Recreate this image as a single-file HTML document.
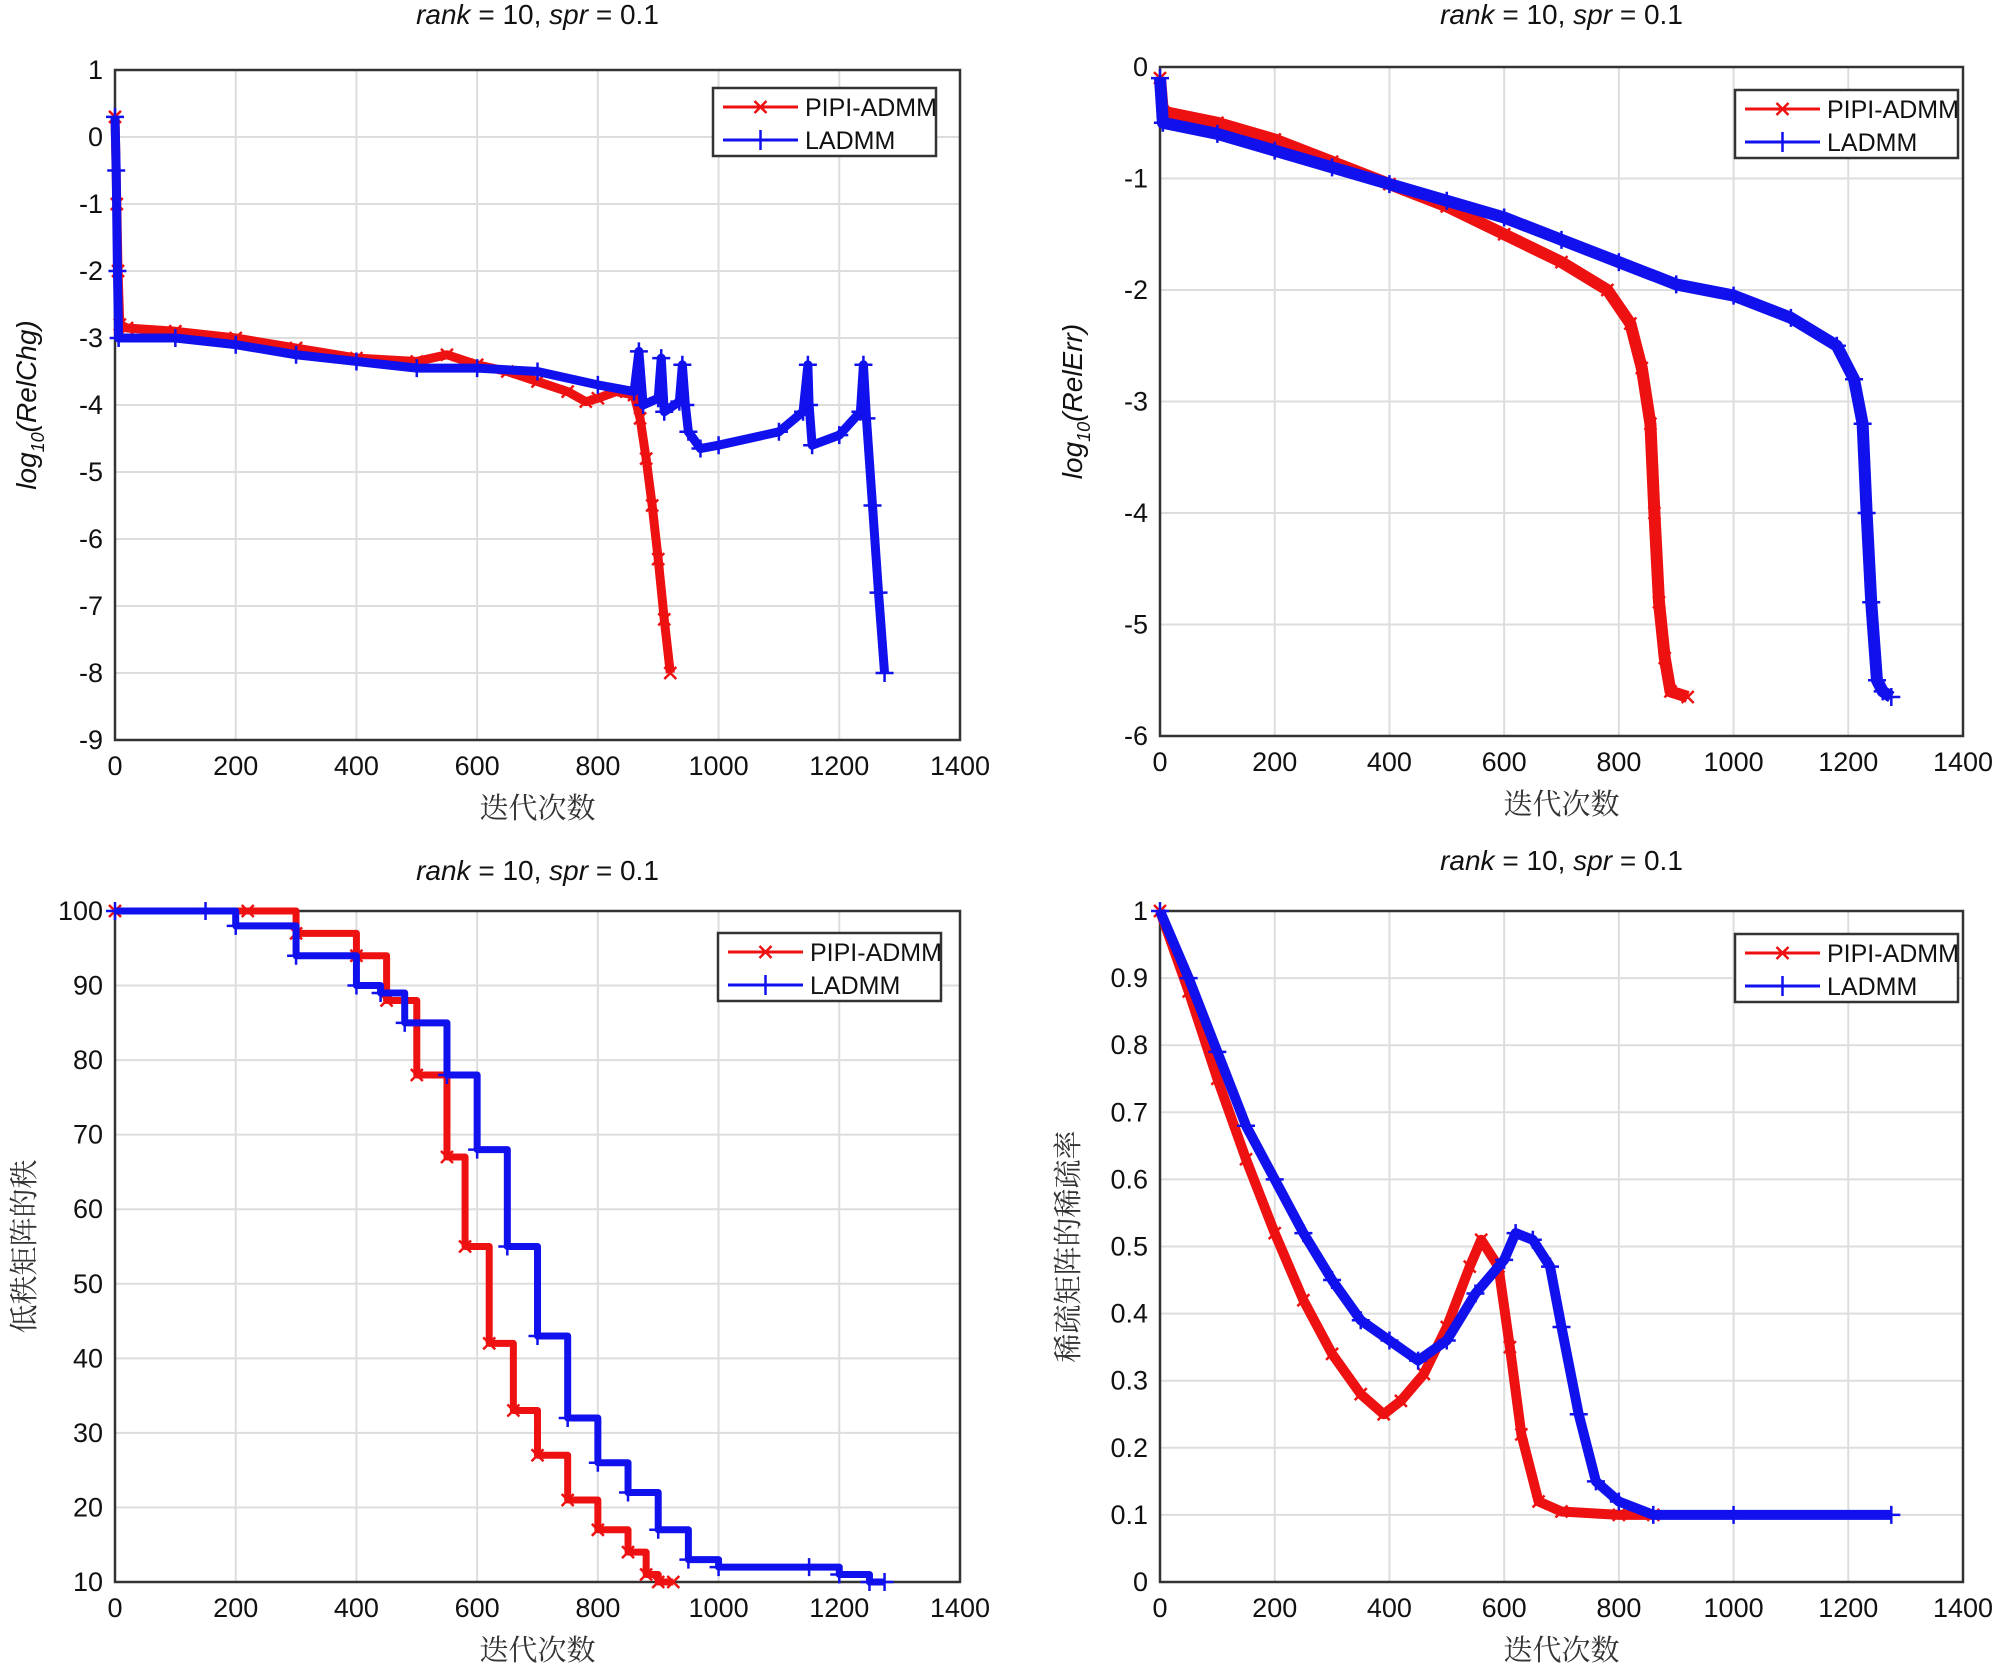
<!DOCTYPE html>
<html><head><meta charset="utf-8"><style>
body{margin:0;background:#fff;}
svg{display:block;font-family:"Liberation Sans","Noto Sans CJK SC",sans-serif;}
.tk{font-size:27px;fill:#111;}
.ttl{font-size:28px;fill:#111;}
.cn{font-family:"Noto Serif CJK SC","Noto Sans CJK SC",serif;font-size:29px;fill:#333;}
</style></head><body>
<svg id="fig" width="2000" height="1669" viewBox="0 0 2000 1669"></svg>
<script>
const xTicks=[0,200,400,600,800,1000,1200,1400];
const y1Ticks=[1,0,-1,-2,-3,-4,-5,-6,-7,-8,-9];
const y2Ticks=[0,-1,-2,-3,-4,-5,-6];
const y3Ticks=[100,90,80,70,60,50,40,30,20,10];
const y4Ticks=[1,0.9,0.8,0.7,0.6,0.5,0.4,0.3,0.2,0.1,0];
const seriesNames=["PIPI-ADMM","LADMM"];
const c1Red=[[0,0.3],[3,-1],[5,-2],[8,-2.8],[20,-2.85],[100,-2.9],[200,-3.0],[300,-3.15],[400,-3.3],[500,-3.35],[550,-3.25],[600,-3.4],[650,-3.5],[700,-3.65],[750,-3.8],[780,-3.95],[800,-3.9],[830,-3.8],[860,-3.85],[870,-4.2],[880,-4.8],[890,-5.5],[900,-6.3],[910,-7.2],[920,-8.0]];
const c1Blue=[[0,0.3],[2,-0.5],[4,-2],[6,-3],[100,-3.0],[200,-3.1],[300,-3.25],[400,-3.35],[500,-3.45],[600,-3.45],[700,-3.5],[800,-3.7],[860,-3.8],[868,-3.2],[875,-4.0],[900,-3.9],[905,-3.3],[910,-4.1],[935,-3.95],[940,-3.4],[945,-4.0],[950,-4.4],[970,-4.65],[1000,-4.6],[1100,-4.4],[1140,-4.1],[1148,-3.4],[1150,-4.0],[1155,-4.6],[1200,-4.45],[1235,-4.1],[1240,-3.4],[1245,-4.2],[1255,-5.5],[1265,-6.8],[1275,-8.0]];
const c2Red=[[0,-0.1],[5,-0.4],[100,-0.5],[200,-0.65],[300,-0.85],[400,-1.05],[500,-1.25],[600,-1.5],[700,-1.75],[780,-2.0],[820,-2.3],[840,-2.7],[855,-3.2],[862,-4],[870,-4.8],[880,-5.3],[890,-5.6],[920,-5.65]];
const c2Blue=[[0,-0.1],[5,-0.5],[100,-0.6],[200,-0.75],[300,-0.9],[400,-1.05],[500,-1.2],[600,-1.35],[700,-1.55],[800,-1.75],[900,-1.95],[1000,-2.05],[1100,-2.25],[1180,-2.5],[1210,-2.8],[1225,-3.2],[1232,-4],[1240,-4.8],[1250,-5.5],[1260,-5.6],[1275,-5.65]];
const c3Red=[[0,100],[220,100],[300,97],[400,94],[450,88],[500,78],[550,67],[580,55],[620,42],[660,33],[700,27],[750,21],[800,17],[850,14],[880,11],[900,10],[925,10]];
const c3Blue=[[0,100],[150,100],[200,98],[300,94],[400,90],[440,89],[480,85],[550,78],[600,68],[650,55],[700,43],[750,32],[800,26],[850,22],[900,17],[950,13],[1000,12],[1150,12],[1200,11],[1250,10],[1275,10]];
const c4Red=[[0,1],[50,0.88],[100,0.75],[150,0.63],[200,0.52],[250,0.42],[300,0.34],[350,0.28],[390,0.25],[420,0.27],[460,0.31],[500,0.38],[540,0.47],[560,0.51],[590,0.47],[610,0.35],[630,0.22],[660,0.12],[700,0.105],[800,0.1],[860,0.1]];
const c4Blue=[[0,1],[50,0.9],[100,0.79],[150,0.68],[200,0.6],[250,0.52],[300,0.45],[350,0.39],[400,0.36],[450,0.33],[500,0.36],[550,0.43],[600,0.48],[620,0.52],[650,0.51],[680,0.47],[700,0.38],[730,0.25],[760,0.15],[800,0.12],[860,0.1],[1000,0.1],[1275,0.1]];

const NS="http://www.w3.org/2000/svg";
const fig=document.getElementById('fig');
function mk(tag,attrs,parent){const e=document.createElementNS(NS,tag);for(const k in attrs)e.setAttribute(k,attrs[k]);(parent||fig).appendChild(e);return e;}

function chart(o){
  const g=mk('g',{});
  
  
  const X=v=>o.L+(v-0)/(1400)*(o.R-o.L);
  const Y=v=>o.T+(o.ymax-v)/(o.ymax-o.ymin)*(o.B-o.T);
  xTicks.forEach(t=>{
    const l=mk('line',{x1:X(t),x2:X(t),y1:o.T,y2:o.B,stroke:'#ddd','stroke-width':2},g);
    
    
    const tx=mk('text',{x:X(t),y:o.B+35,'text-anchor':'middle',class:'tk'},g);tx.textContent=t;
    
    
  });
  o.yt.forEach(t=>{
    const l=mk('line',{x1:o.L,x2:o.R,y1:Y(t),y2:Y(t),stroke:'#ddd','stroke-width':2},g);
    
    
    const tx=mk('text',{x:o.L-12,y:Y(t)+9,'text-anchor':'end',class:'tk'},g);tx.textContent=t;
    
    
  });
  const fr=mk('rect',{x:o.L,y:o.T,width:o.R-o.L,height:o.B-o.T,fill:'none',stroke:'#333','stroke-width':2.5},g);
  
  
  [[o.red,'#ee1111','x'],[o.blue,'#1111ee','+']].forEach(([d,col,m],i)=>{
    let pts=[];
    d.forEach((p,j)=>{ if(o.step&&j>0){pts.push([X(p[0]),Y(d[j-1][1])]);} pts.push([X(p[0]),Y(p[1])]); });
    const pl=mk('polyline',{points:pts.map(p=>p.join(',')).join(' '),fill:'none',stroke:col,'stroke-width':o.lw,'stroke-linejoin':'round'},g);
    
    
    d.forEach(p=>{
      const x=X(p[0]),y=Y(p[1]);
      const mg=mk('path',{d:m==='x'?`M${x-6},${y-6}L${x+6},${y+6}M${x-6},${y+6}L${x+6},${y-6}`:`M${x-9},${y}L${x+9},${y}M${x},${y-9}L${x},${y+9}`,stroke:col,'stroke-width':2.5},g);
      
      
    });
  });
  const t=mk('text',{x:(o.L+o.R)/2,y:o.tY,'text-anchor':'middle',class:'ttl'},g);
  t.innerHTML='<tspan font-style="italic">rank</tspan> = 10, <tspan font-style="italic">spr</tspan> = 0.1';
  
  
  const xl=mk('text',{x:(o.L+o.R)/2,y:o.B+78,'text-anchor':'middle',class:'cn'},g);xl.textContent='迭代次数';
  
  
  const yl=mk('text',{x:0,y:0,'text-anchor':'middle',class:o.ylCn?'cn':'ttl',transform:`translate(${o.ylX},${(o.T+o.B)/2}) rotate(-90)`},g);
  if(o.ylCn){yl.textContent=o.ylabel;}else{yl.innerHTML=o.ylabel;}
  
  
  const lg=mk('g',{},g);
  
  
  mk('rect',{x:o.lgX,y:o.lgY,width:223,height:68,fill:'#fff',stroke:'#333','stroke-width':2.5},lg);
  [['#ee1111','x'],['#1111ee','+']].forEach(([col,m],i)=>{
    const yy=o.lgY+19+i*33, x0=o.lgX+10, x1=o.lgX+85, xm=(x0+x1)/2;
    mk('line',{x1:x0,x2:x1,y1:yy,y2:yy,stroke:col,'stroke-width':3},lg);
    mk('path',{d:m==='x'?`M${xm-6},${yy-6}L${xm+6},${yy+6}M${xm-6},${yy+6}L${xm+6},${yy-6}`:`M${xm},${yy-10}L${xm},${yy+10}`,stroke:col,'stroke-width':2.5},lg);
    const tt=mk('text',{x:o.lgX+92,y:yy+9,class:'tk',style:'font-size:25px'},lg);tt.textContent=seriesNames[i];
    
    
  });
}
chart({name:'relchg-chart',L:115,R:960,T:70,B:740,ymax:1,ymin:-9,yt:y1Ticks,red:c1Red,blue:c1Blue,lw:9,tY:24,ylX:36,ylabel:'<tspan font-style="italic">log</tspan><tspan font-size="18" dy="8" font-style="italic">10</tspan><tspan dy="-8" font-style="italic">(RelChg)</tspan>',lgX:713,lgY:88});
chart({name:'relerr-chart',L:1160,R:1963,T:67,B:736,ymax:0,ymin:-6,yt:y2Ticks,red:c2Red,blue:c2Blue,lw:12,tY:24,ylX:1082,ylabel:'<tspan font-style="italic">log</tspan><tspan font-size="18" dy="8" font-style="italic">10</tspan><tspan dy="-8" font-style="italic">(RelErr)</tspan>',lgX:1735,lgY:90});
chart({name:'rank-chart',L:115,R:960,T:911,B:1582,ymax:100,ymin:10,yt:y3Ticks,red:c3Red,blue:c3Blue,lw:7,step:true,tY:880,ylX:34,ylCn:true,ylabel:'低秩矩阵的秩',lgX:718,lgY:933});
chart({name:'sparsity-chart',L:1160,R:1963,T:911,B:1582,ymax:1,ymin:0,yt:y4Ticks,red:c4Red,blue:c4Blue,lw:10,tY:870,ylX:1078,ylCn:true,ylabel:'稀疏矩阵的稀疏率',lgX:1735,lgY:934});
</script>
</body></html>
